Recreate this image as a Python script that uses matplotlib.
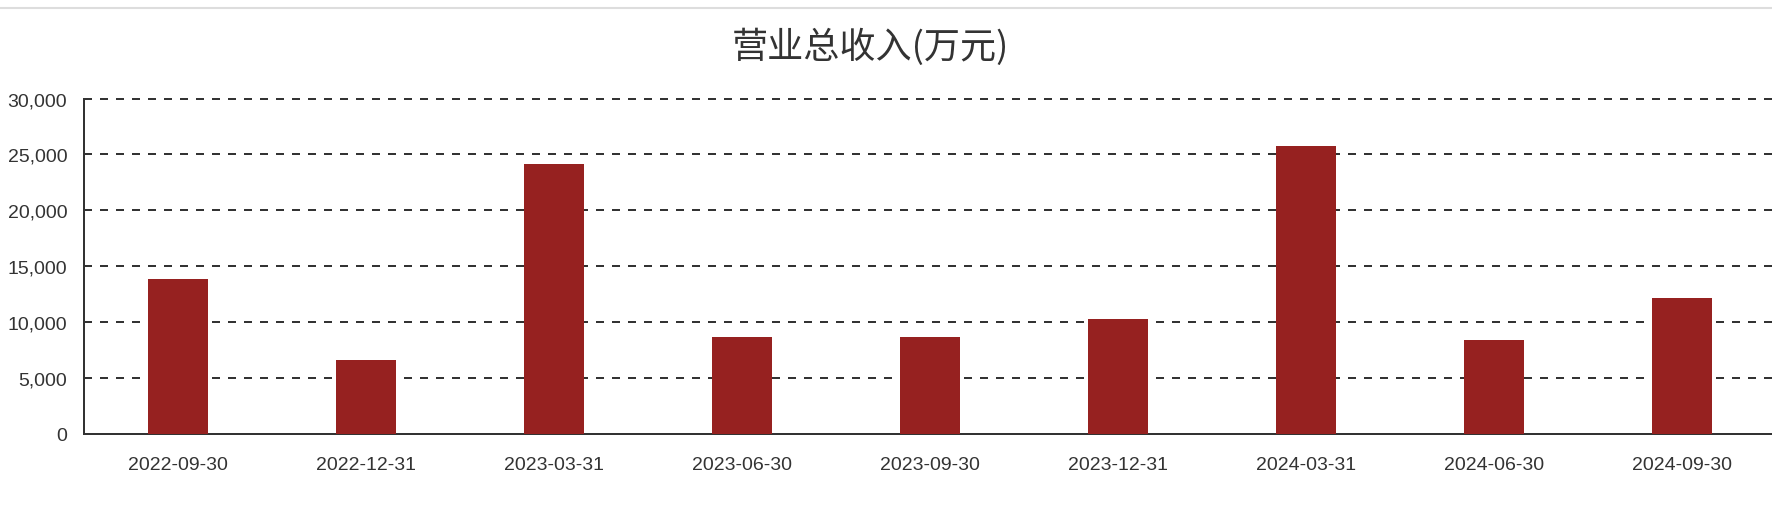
import matplotlib
matplotlib.use("Agg")
import matplotlib.pyplot as plt
from matplotlib.lines import Line2D
from matplotlib.ticker import FuncFormatter

# 营业总收入 (万元), by report date
dates = ['2022-09-30', '2022-12-31', '2023-03-31', '2023-06-30', '2023-09-30',
         '2023-12-31', '2024-03-31', '2024-06-30', '2024-09-30']
revenue = [13870, 6620, 24090, 8640, 8680, 10290, 25790, 8410, 12170]
yticks = [0, 5000, 10000, 15000, 20000, 25000, 30000]
title = '营业总收入(万元)'

plt.rcParams['font.family'] = ['Liberation Sans', 'Noto Sans CJK SC', 'DejaVu Sans']

W, H = 1772, 506
fig = plt.figure(figsize=(W / 100, H / 100), dpi=100)
ax = fig.add_axes([84 / W, (H - 434.5) / H, 1 - 84 / W, (434.5 - 99.5) / H])

ax.bar(range(len(dates)), revenue, width=0.32, color='#962120', zorder=3)

ax.set_xlim(-0.5, len(dates) - 0.52)
ax.set_ylim(0, 30000)
ax.set_xticks(range(len(dates)))
ax.set_xticklabels(dates)
ax.set_yticks(yticks)
ax.yaxis.set_major_formatter(FuncFormatter(lambda v, p: f'{int(v):,}'))

ax.grid(axis='y', linestyle=(0, (4, 4)), linewidth=1.44, color='#333333', zorder=1)
ax.set_axisbelow(True)
for gl in ax.get_ygridlines():
    gl.set_clip_on(False)

for s in ['top', 'right']:
    ax.spines[s].set_visible(False)
for s in ['left', 'bottom']:
    ax.spines[s].set_color('#333333')
    ax.spines[s].set_linewidth(1.44)

ax.tick_params(axis='both', length=0, labelsize=14, labelcolor='#333333')
ax.tick_params(axis='x', pad=16)
ax.tick_params(axis='y', pad=12)

fig.text(870 / W, 1 - 47 / H, title, ha='center', va='center', fontsize=26,
         color='#333333', family=['Noto Sans CJK SC', 'DejaVu Sans'])

# thin grey rule along the top
fig.add_artist(Line2D([0, 1], [1 - 9 / H, 1 - 9 / H], color='#dddddd', linewidth=1.5,
                      transform=fig.transFigure))

fig.savefig('out.png', dpi=100)
